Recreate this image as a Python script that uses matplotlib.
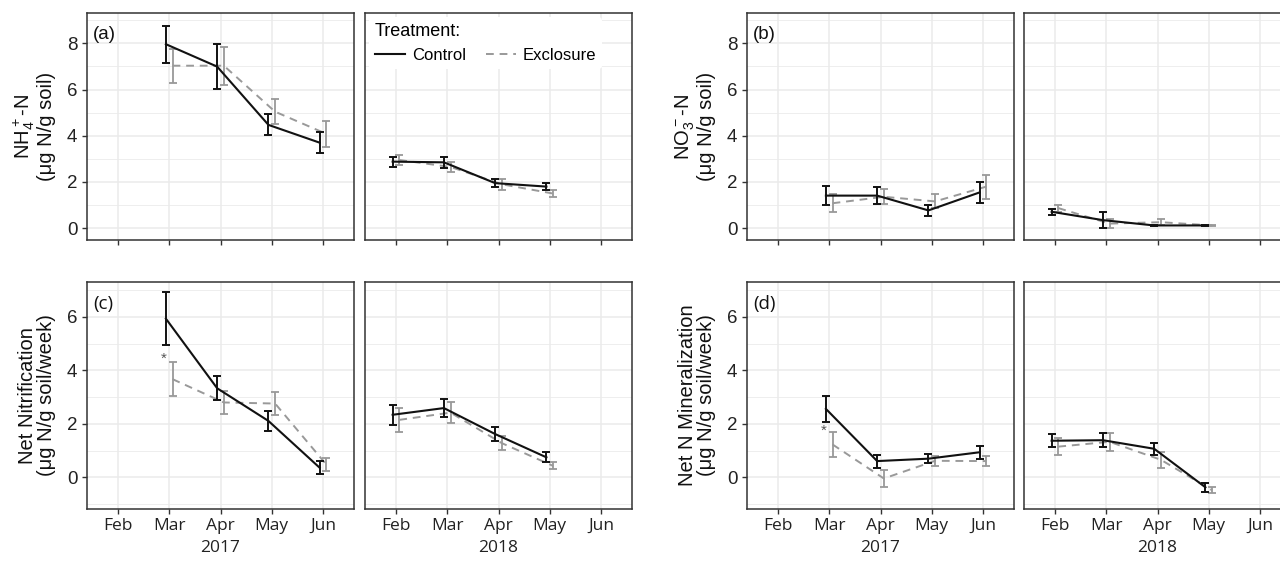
import matplotlib
matplotlib.use("Agg")
import matplotlib.pyplot as plt
from matplotlib.lines import Line2D
from matplotlib.ticker import MultipleLocator, FixedLocator

plt.rcParams['font.family'] = ['Liberation Sans', 'DejaVu Sans']
plt.rcParams['mathtext.default'] = 'regular'

# ---------------- data ----------------
month_labels = ['Feb', 'Mar', 'Apr', 'May', 'Jun']
month_ticks = [2, 3, 4, 5, 6]
years = ['2017', '2018']
months_2017 = [3, 4, 5, 6]
months_2018 = [2, 3, 4, 5]
treatments = ['Control', 'Exclosure']

# (a) NH4+-N
nh4_ctrl_2017 = [7.96, 6.99, 4.47, 3.70]
nh4_ctrl_2017_se = [0.80, 0.97, 0.45, 0.45]
nh4_excl_2017 = [7.03, 7.03, 5.04, 4.08]
nh4_excl_2017_se = [0.74, 0.82, 0.53, 0.57]
nh4_ctrl_2018 = [2.88, 2.85, 1.95, 1.80]
nh4_ctrl_2018_se = [0.22, 0.24, 0.17, 0.15]
nh4_excl_2018 = [2.95, 2.65, 1.90, 1.50]
nh4_excl_2018_se = [0.22, 0.20, 0.23, 0.15]

# (b) NO3--N
no3_ctrl_2017 = [1.41, 1.41, 0.77, 1.55]
no3_ctrl_2017_se = [0.41, 0.36, 0.23, 0.45]
no3_excl_2017 = [1.08, 1.36, 1.16, 1.80]
no3_excl_2017_se = [0.38, 0.33, 0.30, 0.52]
no3_ctrl_2018 = [0.71, 0.35, 0.12, 0.12]
no3_ctrl_2018_se = [0.12, 0.33, 0.04, 0.03]
no3_excl_2018 = [0.87, 0.20, 0.26, 0.12]
no3_excl_2018_se = [0.15, 0.18, 0.14, 0.02]

# (c) Net nitrification
nit_ctrl_2017 = [5.93, 3.33, 2.11, 0.36]
nit_ctrl_2017_se = [0.99, 0.45, 0.36, 0.24]
nit_excl_2017 = [3.67, 2.80, 2.76, 0.48]
nit_excl_2017_se = [0.64, 0.43, 0.44, 0.25]
nit_ctrl_2018 = [2.34, 2.59, 1.62, 0.75]
nit_ctrl_2018_se = [0.38, 0.35, 0.25, 0.19]
nit_excl_2018 = [2.15, 2.42, 1.28, 0.43]
nit_excl_2018_se = [0.44, 0.40, 0.25, 0.13]

# (d) Net N mineralization
min_ctrl_2017 = [2.56, 0.61, 0.70, 0.94]
min_ctrl_2017_se = [0.50, 0.24, 0.18, 0.25]
min_excl_2017 = [1.23, -0.04, 0.62, 0.61]
min_excl_2017_se = [0.46, 0.33, 0.18, 0.20]
min_ctrl_2018 = [1.37, 1.39, 1.07, -0.37]
min_ctrl_2018_se = [0.25, 0.27, 0.23, 0.16]
min_excl_2018 = [1.15, 1.33, 0.66, -0.48]
min_excl_2018_se = [0.31, 0.33, 0.29, 0.11]

# significance markers (month, y)
star_c = (2.9, 4.45)
star_d = (2.9, 1.75)

# ---------------- style ----------------
CTRL = '#111111'
EXCL = '#999999'
GRID = '#ebebeb'
SPINE = '#333333'
DODGE = 0.065
XFONT = ['Open Sans', 'DejaVu Sans']

W, H = 1280, 563
fig = plt.figure(figsize=(W / 100, H / 100), dpi=100)


def px_axes(x0, y0, x1, y1):
    return fig.add_axes([x0 / W, 1 - y1 / H, (x1 - x0) / W, (y1 - y0) / H])


def style(ax, ylim, ymaj, ymin_loc, left, bottom_labels, year):
    ax.set_xlim(1.396, 6.604)
    ax.set_ylim(*ylim)
    ax.xaxis.set_major_locator(FixedLocator(month_ticks))
    ax.yaxis.set_major_locator(MultipleLocator(ymaj))
    ax.yaxis.set_minor_locator(FixedLocator(ymin_loc))
    ax.grid(True, which='major', color=GRID, lw=1.1, zorder=0)
    ax.grid(True, which='minor', axis='y', color=GRID, lw=0.6, zorder=0)
    ax.set_axisbelow(True)
    for s in ax.spines.values():
        s.set_color(SPINE)
        s.set_linewidth(1.1)
    ax.tick_params(which='major', length=3.5, width=1.0, color=SPINE,
                   labelsize=13.5, labelcolor='#222222')
    ax.tick_params(which='minor', length=0)
    if not left:
        ax.tick_params(axis='y', which='both', left=False, labelleft=False)
    if bottom_labels:
        ax.set_xticklabels(month_labels, fontfamily=XFONT, fontsize=12.5)
        ax.tick_params(axis='x', pad=3)
        ax.set_xlabel(year, fontfamily=XFONT, fontsize=12.5, labelpad=4,
                      color='#222222')
    else:
        ax.tick_params(axis='x', labelbottom=False)


def draw(ax, months, c, cse, e, ese):
    xc = [m - DODGE for m in months]
    xe = [m + DODGE for m in months]
    ax.errorbar(xe, e, yerr=ese, color=EXCL, lw=1.4, ls=(0, (4, 3)),
                capsize=2.6, elinewidth=1.3, capthick=1.3, zorder=3)
    ax.errorbar(xc, c, yerr=cse, color=CTRL, lw=1.5, capsize=2.6,
                elinewidth=1.4, capthick=1.4, zorder=4)


top = (13, 240)
bot = (282, 509)
cols = [(87, 354), (365, 632), (747, 1014), (1024, 1291)]

ylim_top = (-0.51, 9.31)
ylim_bot = (-1.18, 7.3)
minor_top = [-1, 1, 3, 5, 7, 9]
minor_bot = [-1, 1, 3, 5, 7]

panels = [
    (0, top, ylim_top, 2, minor_top,
     (nh4_ctrl_2017, nh4_ctrl_2017_se, nh4_excl_2017, nh4_excl_2017_se),
     (nh4_ctrl_2018, nh4_ctrl_2018_se, nh4_excl_2018, nh4_excl_2018_se),
     '(a)', 'NH$_4^+$-N\n(μg N/g soil)', False, None),
    (2, top, ylim_top, 2, minor_top,
     (no3_ctrl_2017, no3_ctrl_2017_se, no3_excl_2017, no3_excl_2017_se),
     (no3_ctrl_2018, no3_ctrl_2018_se, no3_excl_2018, no3_excl_2018_se),
     '(b)', 'NO$_3^-$-N\n(μg N/g soil)', False, None),
    (0, bot, ylim_bot, 2, minor_bot,
     (nit_ctrl_2017, nit_ctrl_2017_se, nit_excl_2017, nit_excl_2017_se),
     (nit_ctrl_2018, nit_ctrl_2018_se, nit_excl_2018, nit_excl_2018_se),
     '(c)', 'Net Nitrification\n(μg N/g soil/week)', True, star_c),
    (2, bot, ylim_bot, 2, minor_bot,
     (min_ctrl_2017, min_ctrl_2017_se, min_excl_2017, min_excl_2017_se),
     (min_ctrl_2018, min_ctrl_2018_se, min_excl_2018, min_excl_2018_se),
     '(d)', 'Net N Mineralization\n(μg N/g soil/week)', True, star_d),
]

legend_ax = None
for ci, row, ylim, ymaj, mloc, d17, d18, letter, ylab, blab, star in panels:
    x0, x1 = cols[ci]
    ax1 = px_axes(x0, row[0], x1, row[1])
    style(ax1, ylim, ymaj, mloc, True, blab, years[0])
    draw(ax1, months_2017, *d17)
    ax1.set_ylabel(ylab, fontsize=14.5, labelpad=8, color='#111111',
                   linespacing=1.0)
    lf = XFONT if blab else ['Liberation Sans', 'DejaVu Sans']
    ax1.text(0.022, 0.905, letter, transform=ax1.transAxes, ha='left',
             va='center', fontsize=13.5, fontfamily=lf, color='#111111')
    if star is not None:
        ax1.text(star[0], star[1], '*', ha='center', va='center',
                 fontsize=11, color='#555555')
    x0, x1 = cols[ci + 1]
    ax2 = px_axes(x0, row[0], x1, row[1])
    style(ax2, ylim, ymaj, mloc, False, blab, years[1])
    draw(ax2, months_2018, *d18)
    if legend_ax is None:
        legend_ax = ax2

handles = [Line2D([], [], color=CTRL, lw=1.5),
           Line2D([], [], color=EXCL, lw=1.4, ls=(0, (4, 3)))]
leg = legend_ax.legend(handles, treatments, title='Treatment:', ncol=2,
                       loc='upper left', bbox_to_anchor=(0.0, 1.0),
                       frameon=True, fontsize=12, title_fontsize=13,
                       handlelength=1.8, handletextpad=0.4, columnspacing=1.2,
                       borderaxespad=0.25, borderpad=0.35)
leg._legend_box.align = 'left'
leg.get_frame().set_facecolor('white')
leg.get_frame().set_edgecolor('none')
leg.get_frame().set_alpha(1)

fig.savefig('out.png', dpi=100)
